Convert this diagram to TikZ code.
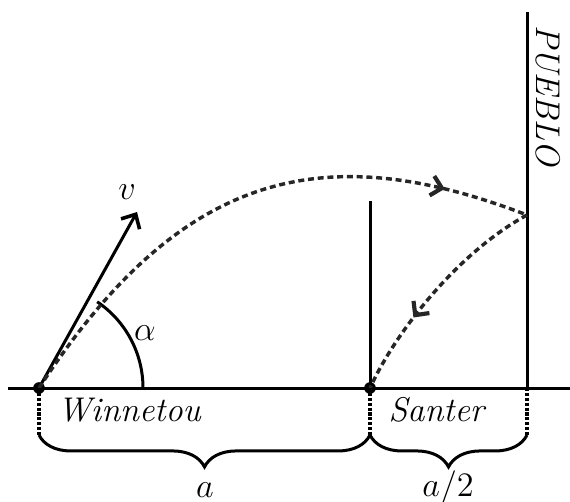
\documentclass[tikz,border=0pt]{standalone}
\usetikzlibrary{arrows.meta,decorations.markings,decorations.pathreplacing}
\begin{document}
\begin{tikzpicture}[x=0.42pt,y=-0.42pt, line width=1.26pt,
  traj/.style={draw=black!85, line width=1.45pt, dash pattern=on 2.5pt off 1.6pt},
  guide/.style={line width=1.4pt, dash pattern=on 1.3pt off 0.75pt},
  lbl/.style={font=\Large, inner sep=0pt},
  dot/.style={circle, fill, inner sep=0pt, minimum size=4.9pt},
  barb/.style={decoration={markings, mark=at position #1 with {\arrow{Straight Barb[length=4.3pt,width=8.4pt,line width=1.75pt]}}}, postaction={decorate}},
  bracebelow/.style={decorate, decoration={brace, mirror, amplitude=13.4pt}}]
\useasboundingbox (0,0) rectangle (570,501);
% points
\coordinate (L) at (8,388);
\coordinate (R) at (570,388);
\node[dot] (W) at (39,388) {};
\node[dot] (S) at (370,388) {};
\coordinate (P) at (527,388);
\coordinate (Ptop) at (527,12);
\coordinate (Stop) at (370,201);
\coordinate (H) at (527,215);
\coordinate (V) at (137,212);
\coordinate (A0) at (143,388);
\coordinate (Wb) at (39,435);
\coordinate (Sb) at (370,435);
\coordinate (Pb) at (527,435);
% lines
\draw (L) -- (R);
\draw (P) -- (Ptop);
\draw (S.center) -- (Stop);
\draw[-{Straight Barb[length=4.7pt,width=8.9pt,line width=1.5pt]}] (W.center) -- (V);
\draw (A0) arc[start angle=0, end angle=-56, radius=104];
% trajectories
\draw[traj, barb=0.85] (W.center) .. controls (180,172) and (322,136) .. (H);
\draw[traj, barb=0.65] (H) .. controls (457,253) and (395,333) .. (S.center);
% guides and braces
\draw[guide] (W.center) -- (Wb);
\draw[guide] (S.center) -- (Sb);
\draw[guide] (P) -- (Pb);
\draw[bracebelow] (Wb) -- (Sb);
\draw[bracebelow] (Sb) -- (Pb);
% labels
\node[lbl] (lv) at (127,192) {$v$};
\node[lbl] (lal) at (145,333) {$\alpha$};
\node[lbl, anchor=base west] (lw) at (56,421) {\textit{Winnetou}};
\node[lbl, anchor=base west] (ls) at (387,421) {\textit{Santer}};
\node[lbl, rotate=-90] (lp) at (548,96) {\textit{PUEBLO}};
\node[lbl] (la) at (205,490) {$a$};
\node[lbl] (la2) at (448,488) {$a/2$};
\end{tikzpicture}
\end{document}
